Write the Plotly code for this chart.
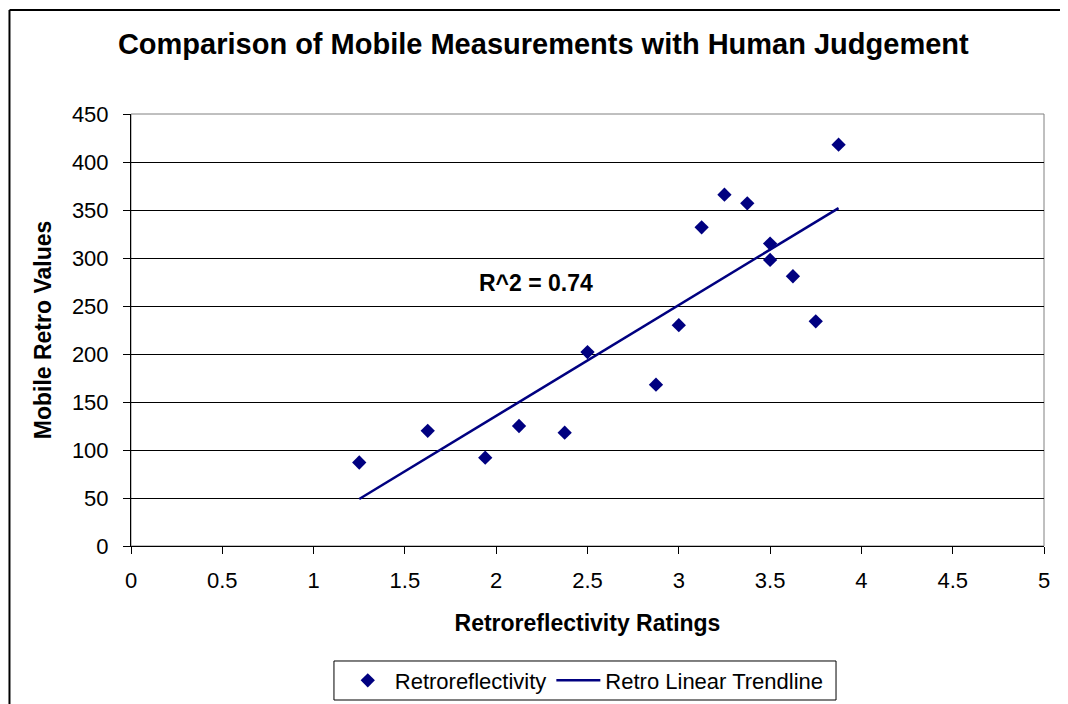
import plotly.graph_objects as go

# ratings vs mobile retro readings
ratings = [1.25, 1.625, 1.94, 2.125, 2.375, 2.5, 2.875, 3.0, 3.125, 3.25,
           3.375, 3.5, 3.5, 3.625, 3.75, 3.875]
retro_values = [87, 120, 92, 125, 118, 202, 168, 230, 332, 366,
                357, 315, 298, 281, 234, 418]

# end points of the linear trendline as drawn
trend_x = [1.25, 3.875]
trend_y = [49, 352]

x_ticks = [0, 0.5, 1, 1.5, 2, 2.5, 3, 3.5, 4, 4.5, 5]
x_labels = ["0", "0.5", "1", "1.5", "2", "2.5", "3", "3.5", "4", "4.5", "5"]
y_ticks = [0, 50, 100, 150, 200, 250, 300, 350, 400, 450]

navy = "#000080"
font = "Liberation Sans, Arial, sans-serif"

fig = go.Figure()

fig.add_trace(go.Scatter(
    x=ratings, y=retro_values,
    mode="markers",
    name="Retroreflectivity",
    marker=dict(symbol="diamond", size=11, color=navy),
))

fig.add_trace(go.Scatter(
    x=trend_x, y=trend_y,
    mode="lines",
    name="Retro Linear Trendline",
    line=dict(color=navy, width=2.5),
))

fig.add_annotation(
    x=2.22, y=274, xref="x", yref="y",
    text="<b>R^2 = 0.74</b>", showarrow=False,
    font=dict(size=23, color="black", family=font),
)

# plot area frame (gray on top/right like the original)
fig.add_shape(type="rect", xref="paper", yref="paper", x0=0, y0=0, x1=1, y1=1,
              line=dict(color="#808080", width=1), layer="below")

# outer chart border, only left/top edges fall inside the image
fig.add_shape(type="line", xref="paper", yref="paper",
              x0=-0.1331, y0=-1, x1=-0.1331, y1=1.2407,
              line=dict(color="black", width=2))
fig.add_shape(type="line", xref="paper", yref="paper",
              x0=-0.1331, y0=1.2407, x1=1.2, y1=1.2407,
              line=dict(color="black", width=2))

# legend box
fig.add_shape(type="rect", xref="paper", yref="paper",
              x0=0.2223, y0=-0.3565, x1=0.7722, y1=-0.2662,
              line=dict(color="black", width=1), fillcolor="white", layer="below")

fig.update_layout(
    width=1060, height=696,
    paper_bgcolor="white", plot_bgcolor="white",
    margin=dict(l=123, r=24, t=106, b=158, autoexpand=False),
    font=dict(family=font, size=22, color="black"),
    title=dict(
        text="<b>Comparison of Mobile Measurements with Human Judgement</b>",
        x=0.505, xanchor="center", y=0.948, yanchor="middle",
        font=dict(size=29, color="black", family=font),
    ),
    xaxis=dict(
        range=[0, 5], tickvals=x_ticks, ticktext=x_labels,
        showgrid=False, zeroline=False,
        showline=True, linecolor="black", linewidth=1,
        ticks="outside", ticklen=7, tickcolor="black",
        ticklabelstandoff=8,
        tickfont=dict(size=22),
        title=dict(text="<b>Retroreflectivity Ratings</b>", standoff=22,
                   font=dict(size=23)),
    ),
    yaxis=dict(
        range=[0, 450], tickvals=y_ticks,
        showgrid=True, gridcolor="black", gridwidth=1,
        zeroline=False,
        showline=True, linecolor="black", linewidth=1,
        ticks="outside", ticklen=7, tickcolor="black",
        ticklabelstandoff=10,
        tickfont=dict(size=22),
        title=dict(text="<b>Mobile Retro Values</b>", standoff=13,
                   font=dict(size=23)),
    ),
    legend=dict(
        orientation="h", x=0.497, xanchor="center", y=-0.3113, yanchor="middle",
        borderwidth=0, bgcolor="rgba(0,0,0,0)",
        font=dict(size=22), itemwidth=44,
    ),
    showlegend=True,
)

fig.write_html("out.html")
